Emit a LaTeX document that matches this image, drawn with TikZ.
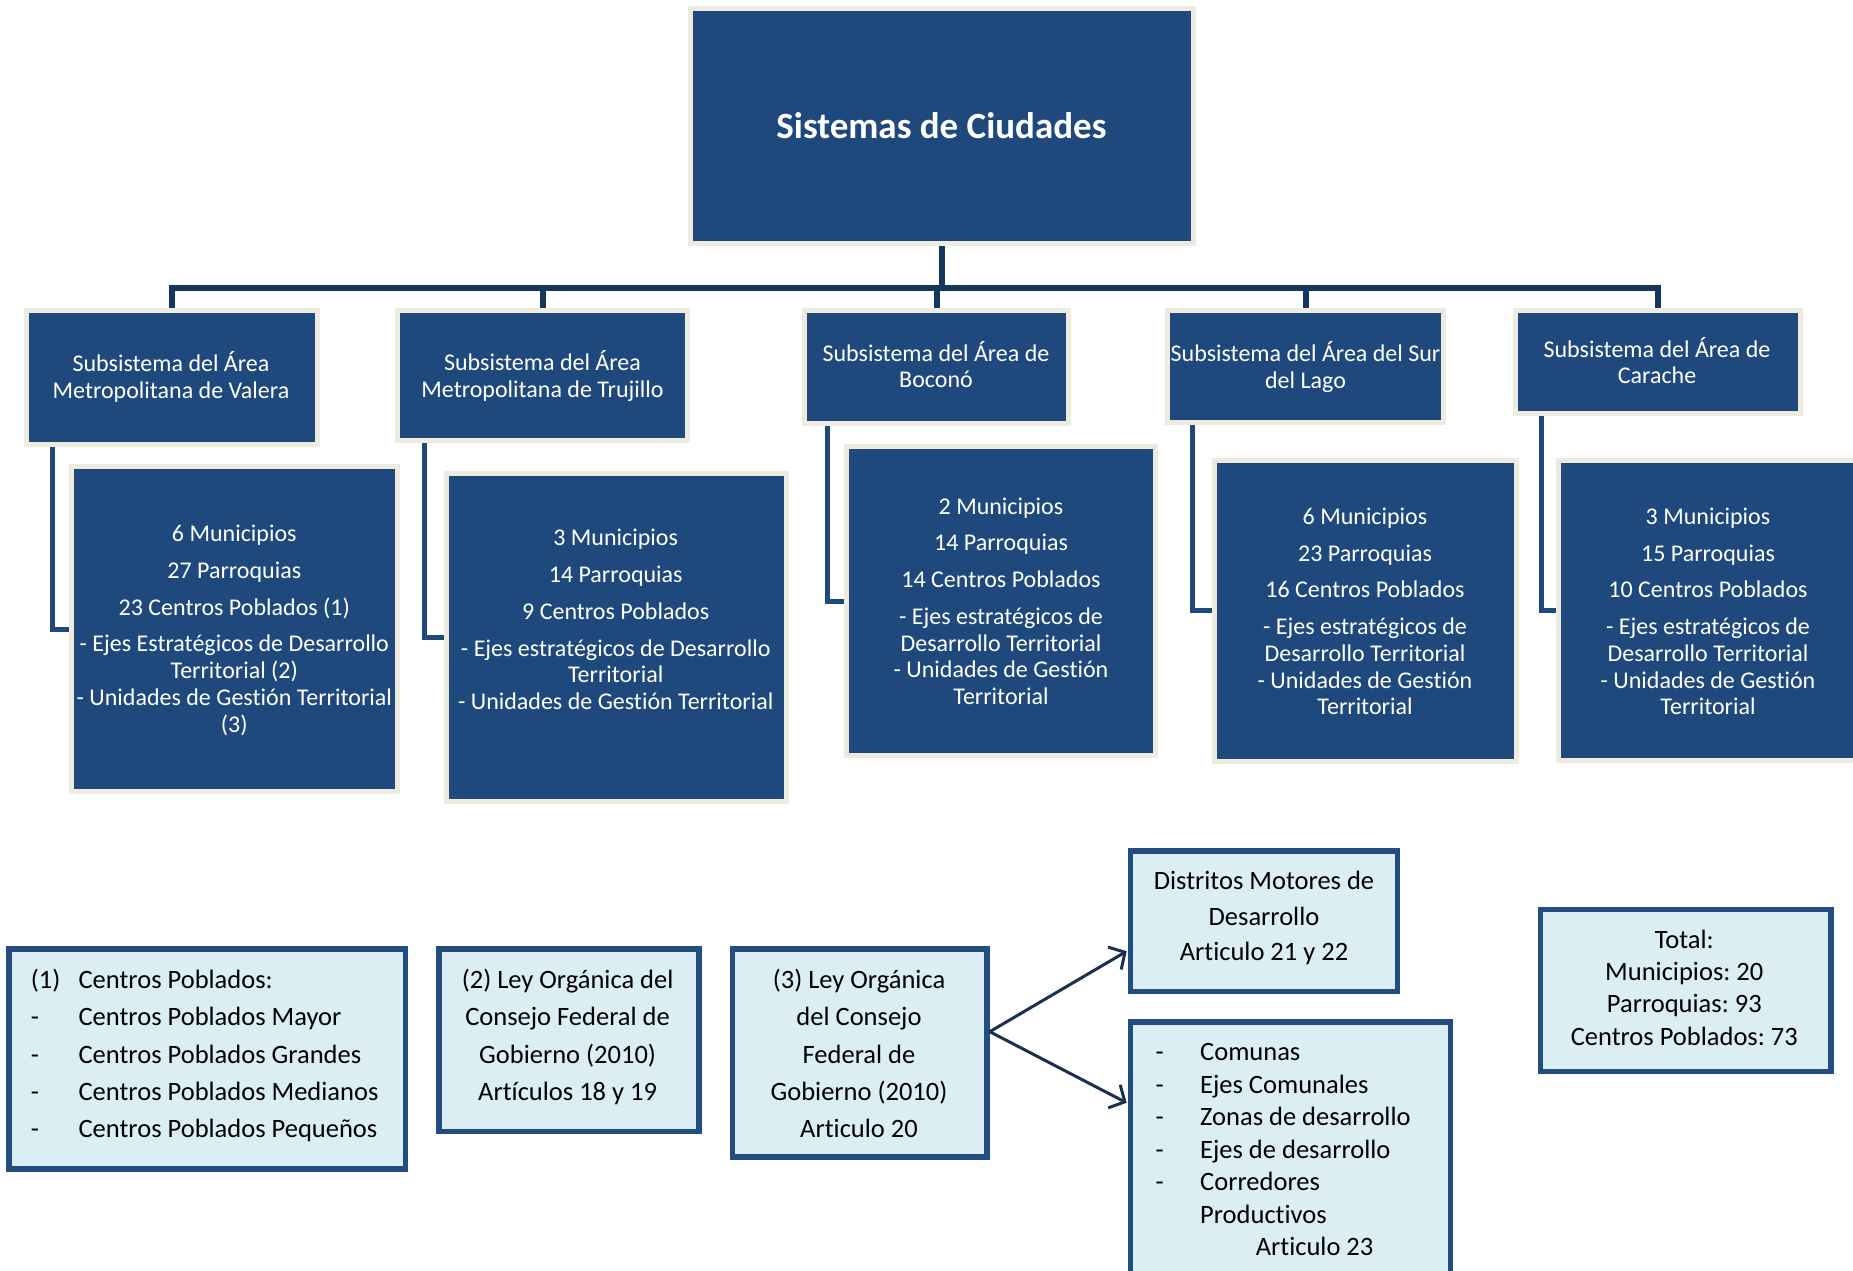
\documentclass[tikz,border=0pt]{standalone}
\usepackage{fontspec}
\setmainfont{Carlito}[Ligatures=CommonOff]
\usetikzlibrary{arrows.meta}
\frenchspacing
\definecolor{dkblue}{HTML}{1F497D}
\definecolor{cream}{HTML}{EEECE1}
\definecolor{busblue}{HTML}{17365D}
\definecolor{ltfill}{HTML}{DBEEF4}
\definecolor{ltborder}{HTML}{234C80}
\definecolor{arrowc}{HTML}{1B2F4E}
\pgfdeclarelayer{bg}
\pgfsetlayers{bg,main}
\tikzset{
  darkbox/.style={draw=cream, fill=dkblue, line width=5pt, inner sep=0pt},
  lightbox/.style={draw=ltborder, fill=ltfill, line width=5.5pt, inner sep=0pt},
  wtext/.style={text=white, align=center, inner sep=0pt, font={\fontsize{24}{26.7}\selectfont}},
  btext/.style={text=black, inner sep=0pt, font={\fontsize{26.5}{37.3}\selectfont}},
  busline/.style={draw=busblue, line width=6pt},
  elbow/.style={draw=dkblue, line width=5pt},
  arr/.style={draw=arrowc, line width=3pt, -{Straight Barb[length=12pt,width=26pt,line width=3pt]}},
}
\newcommand{\pp}{\\[10pt]}
\begin{document}
\frenchspacing
\begin{tikzpicture}[x=1pt,y=-1pt]
\useasboundingbox (0,0) rectangle (1853,1271);

% main box
\node[darkbox, minimum width=503.4pt, minimum height=235.6pt] (main) at (942,126.1) {};
\node[wtext, font={\fontsize{37}{44}\selectfont\bfseries}] (title) at (941.5,126) {Sistemas de Ciudades};

% subsystem boxes
\node[darkbox, minimum width=291.3pt, minimum height=133.7pt] (s1) at (172.2,377.4) {};
\node[darkbox, minimum width=290.6pt, minimum height=130pt] (s2) at (542.5,375.5) {};
\node[darkbox, minimum width=263.7pt, minimum height=112.7pt] (s3) at (936.7,366.9) {};
\node[darkbox, minimum width=275.5pt, minimum height=111.5pt] (s4) at (1305.5,366.3) {};
\node[darkbox, minimum width=285.5pt, minimum height=103pt] (s5) at (1658.2,362) {};

\node[wtext] (t1) at (171,377) {Subsistema del Área\\Metropolitana de Valera};
\node[wtext] (t2) at (542.5,375.8) {Subsistema del Área\\Metropolitana de Trujillo};
\node[wtext] (t3) at (936,364.7) {Subsistema del Área de\\Boconó};
\node[wtext] (t4) at (1305.5,366.7) {Subsistema del Área del Sur\\del Lago};
\node[wtext] (t5) at (1657,360.5) {Subsistema del Área de\\Carache};

% detail boxes
\node[darkbox, minimum width=325.6pt, minimum height=325.6pt] (d1) at (234.6,629) {};
\node[darkbox, minimum width=340.2pt, minimum height=328pt] (d2) at (616.1,637.2) {};
\node[darkbox, minimum width=309.3pt, minimum height=309.3pt] (d3) at (1000.7,601.2) {};
\node[darkbox, minimum width=301.4pt, minimum height=301pt] (d4) at (1365.6,610.5) {};
\node[darkbox, minimum width=311.7pt, minimum height=300pt] (d5) at (1714,610.8) {};

\node[wtext] (u1) at (234.3,630.4) {6 Municipios\pp 27 Parroquias\pp 23 Centros Poblados (1)\pp - Ejes Estratégicos de Desarrollo\\Territorial (2)\\- Unidades de Gestión Territorial\\(3)};
\node[wtext] (u2) at (615.7,619.5) {3 Municipios\pp 14 Parroquias\pp 9 Centros Poblados\pp - Ejes estratégicos de Desarrollo\\Territorial\\- Unidades de Gestión Territorial};
\node[wtext] (u3) at (1001,601.2) {2 Municipios\pp 14 Parroquias\pp 14 Centros Poblados\pp - Ejes estratégicos de\\Desarrollo Territorial\\- Unidades de Gestión\\Territorial};
\node[wtext] (u4) at (1365,611.5) {6 Municipios\pp 23 Parroquias\pp 16 Centros Poblados\pp - Ejes estratégicos de\\Desarrollo Territorial\\- Unidades de Gestión\\Territorial};
\node[wtext] (u5) at (1708,611.5) {3 Municipios\pp 15 Parroquias\pp 10 Centros Poblados\pp - Ejes estratégicos de\\Desarrollo Territorial\\- Unidades de Gestión\\Territorial};

% bottom light boxes
\node[lightbox, minimum width=396.3pt, minimum height=220.2pt] (b1) at (207.3,1058.9) {};
\node[lightbox, minimum width=259.7pt, minimum height=182.7pt] (b2) at (568.9,1040.2) {};
\node[lightbox, minimum width=254.6pt, minimum height=208.4pt] (b3) at (859.7,1053) {};
\node[lightbox, minimum width=267.3pt, minimum height=140.5pt] (dist) at (1264,921.3) {};
\node[lightbox, minimum width=320.2pt, minimum height=278.2pt] (com) at (1290.4,1160.9) {};
\node[lightbox, minimum width=290.1pt, minimum height=162pt] (tot) at (1685.7,990.5) {};

\node[btext, align=left, anchor=west] (bt1) at (30.6,1055.5) {%
\makebox[47.8pt][l]{(1)}Centros Poblados:\\
\makebox[47.8pt][l]{-}Centros Poblados Mayor\\
\makebox[47.8pt][l]{-}Centros Poblados Grandes\\
\makebox[47.8pt][l]{-}Centros Poblados Medianos\\
\makebox[47.8pt][l]{-}Centros Poblados Pequeños};
\node[btext, align=center] (bt2) at (567.6,1037) {(2) Ley Orgánica del\\Consejo Federal de\\Gobierno (2010)\\Artículos 18 y 19};
\node[btext, align=center] (bt3) at (859,1053.5) {(3) Ley Orgánica\\del Consejo\\Federal de\\Gobierno (2010)\\Articulo 20};
\node[btext, align=center, font={\fontsize{26.5}{35.8}\selectfont}] (dt) at (1264,918) {Distritos Motores de\\Desarrollo\\Articulo 21 y 22};
\node[btext, align=left, anchor=west, font={\fontsize{26.5}{32.5}\selectfont}] (ct) at (1155.4,1149.7) {%
\makebox[44.6pt][l]{-}Comunas\\
\makebox[44.6pt][l]{-}Ejes Comunales\\
\makebox[44.6pt][l]{-}Zonas de desarrollo\\
\makebox[44.6pt][l]{-}Ejes de desarrollo\\
\makebox[44.6pt][l]{-}Corredores\\
\hspace*{44.6pt}Productivos\\
\hspace*{100.2pt}Articulo 23};
\node[btext, align=center, font={\fontsize{26.5}{32.3}\selectfont}] (tt) at (1684.3,987.5) {Total:\\Municipios: 20\\Parroquias: 93\\Centros Poblados: 73};

% connectors
\begin{pgfonlayer}{bg}
\coordinate (busy) at (0,288);
\draw[busline] (main.south) -- (main.south |- busy);
\draw[busline] (s1.north) -- (s1.north |- busy) -- (s5.north |- busy) -- (s5.north);
\draw[busline] (s2.north |- busy) -- (s2.north);
\draw[busline] (s3.north |- busy) -- (s3.north);
\draw[busline] (s4.north |- busy) -- (s4.north);
\draw[elbow] ([xshift=28.1pt]s1.south west) |- (d1.west);
\draw[elbow] ([xshift=29.8pt]s2.south west) |- (d2.west);
\draw[elbow] ([xshift=25.6pt]s3.south west) |- (d3.west);
\draw[elbow] ([xshift=27.5pt]s4.south west) |- (d4.west);
\draw[elbow] ([xshift=28.2pt]s5.south west) |- (d5.west);
\end{pgfonlayer}

\draw[arr, shorten >=1pt] ([yshift=21.3pt]b3.east) -- ([yshift=-29.4pt]dist.west);
\draw[arr, shorten >=1pt] ([yshift=21.3pt]b3.east) -- ([yshift=-84.2pt]com.north west);
\end{tikzpicture}
\end{document}
